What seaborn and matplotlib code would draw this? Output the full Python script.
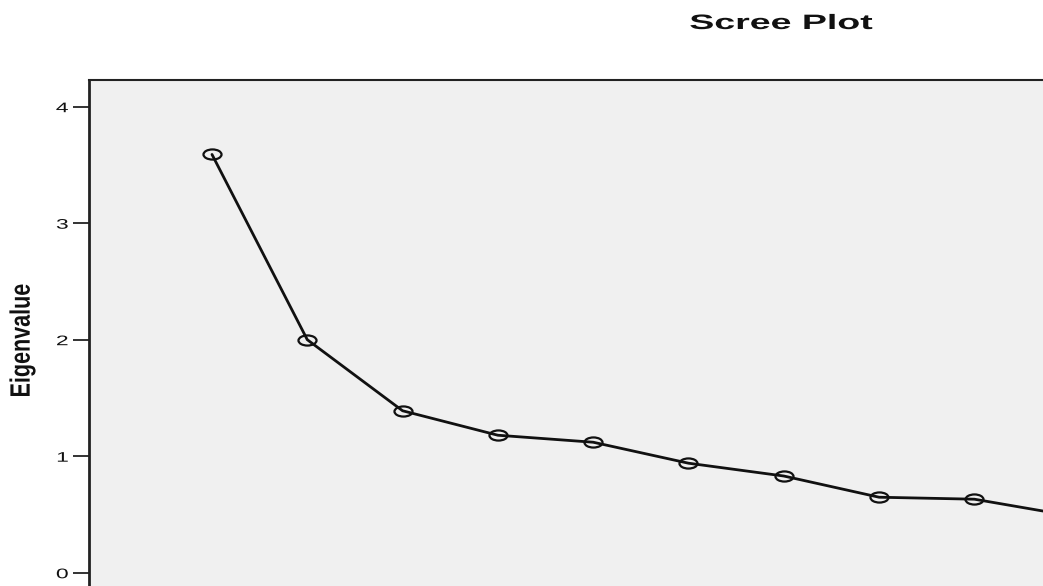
import matplotlib
matplotlib.use("Agg")
import matplotlib.pyplot as plt
import seaborn as sns
from matplotlib.path import Path
from matplotlib.transforms import Affine2D
from matplotlib.patheffects import AbstractPathEffect

# ── data ─────────────────────────────────────────────────────────────────
components = [1, 2, 3, 4, 5, 6, 7, 8, 9, 10]
eigenvalues = [3.59, 2.00, 1.39, 1.18, 1.12, 0.94, 0.83, 0.648, 0.631, 0.49]
ytick_values = [0, 1, 2, 3, 4]
ytick_labels = ["0", "1", "2", "3", "4"]

sns.set_style("white")
plt.rcParams["font.family"] = ["Liberation Sans", "DejaVu Sans"]

PANEL = "#F0F0F0"
INK = "#111111"


class Stretch(AbstractPathEffect):
    """Widen text glyphs (the reference image is stretched sideways)."""

    def __init__(self, sx=1.0, sy=1.0, anchor="center"):
        super().__init__()
        self.sx, self.sy, self.anchor = sx, sy, anchor

    def draw_path(self, renderer, gc, tpath, affine, rgbFace=None):
        ext = tpath.get_extents()
        x0 = {"left": ext.x0, "center": (ext.x0 + ext.x1) / 2, "right": ext.x1}[self.anchor]
        y0 = (ext.y0 + ext.y1) / 2
        t = Affine2D().translate(-x0, -y0).scale(self.sx, self.sy).translate(x0, y0)
        renderer.draw_path(gc, tpath, t + affine, rgbFace)


# flat ellipse marker like the SPSS output
ellipse = Path.unit_circle().transformed(Affine2D().scale(1.0, 0.56))

W, H = 1043, 586
fig = plt.figure(figsize=(W / 100, H / 100), dpi=100)
ax = fig.add_axes([89.3 / W, 0, 1 - 89.3 / W, 506 / H])
ax.set_facecolor(PANEL)

sns.lineplot(
    x=components,
    y=eigenvalues,
    color=INK,
    linewidth=2.0,
    marker=ellipse,
    markersize=13,
    markerfacecolor="none",
    markeredgecolor=INK,
    markeredgewidth=1.6,
    ax=ax,
)

ax.set_xlim(-0.2875, 9.72)
ax.set_ylim(-0.114, 4.229)
ax.set_xticks([])
ax.set_xlabel("")

ax.set_yticks(ytick_values)
labels = ax.set_yticklabels(ytick_labels)
ax.tick_params(axis="y", length=11.5, width=1.2, pad=3.6, labelsize=10,
               colors=INK, left=True)
for lbl in labels:
    lbl.set_path_effects([Stretch(1.65, 1.0, "right")])

for side in ["right", "bottom"]:
    ax.spines[side].set_visible(False)
for side in ["left", "top"]:
    ax.spines[side].set_color("#222222")
ax.spines["left"].set_linewidth(2.0)
ax.spines["top"].set_linewidth(1.5)

ylab = ax.set_ylabel("Eigenvalue", fontsize=15.5, fontweight="bold", color=INK)
ax.yaxis.set_label_coords((33 - 89.3) / (W - 89.3), (H - 340.5) / 506)
ylab.set_path_effects([Stretch(1.0, 1.3, "center")])

title = fig.text(781.5 / W, 1 - 29 / H, "Scree Plot", ha="center",
                 va="baseline", fontsize=15, fontweight="bold", color=INK)
title.set_path_effects([Stretch(1.8, 1.0, "center")])

fig.savefig("out.png", dpi=100, facecolor="white")
